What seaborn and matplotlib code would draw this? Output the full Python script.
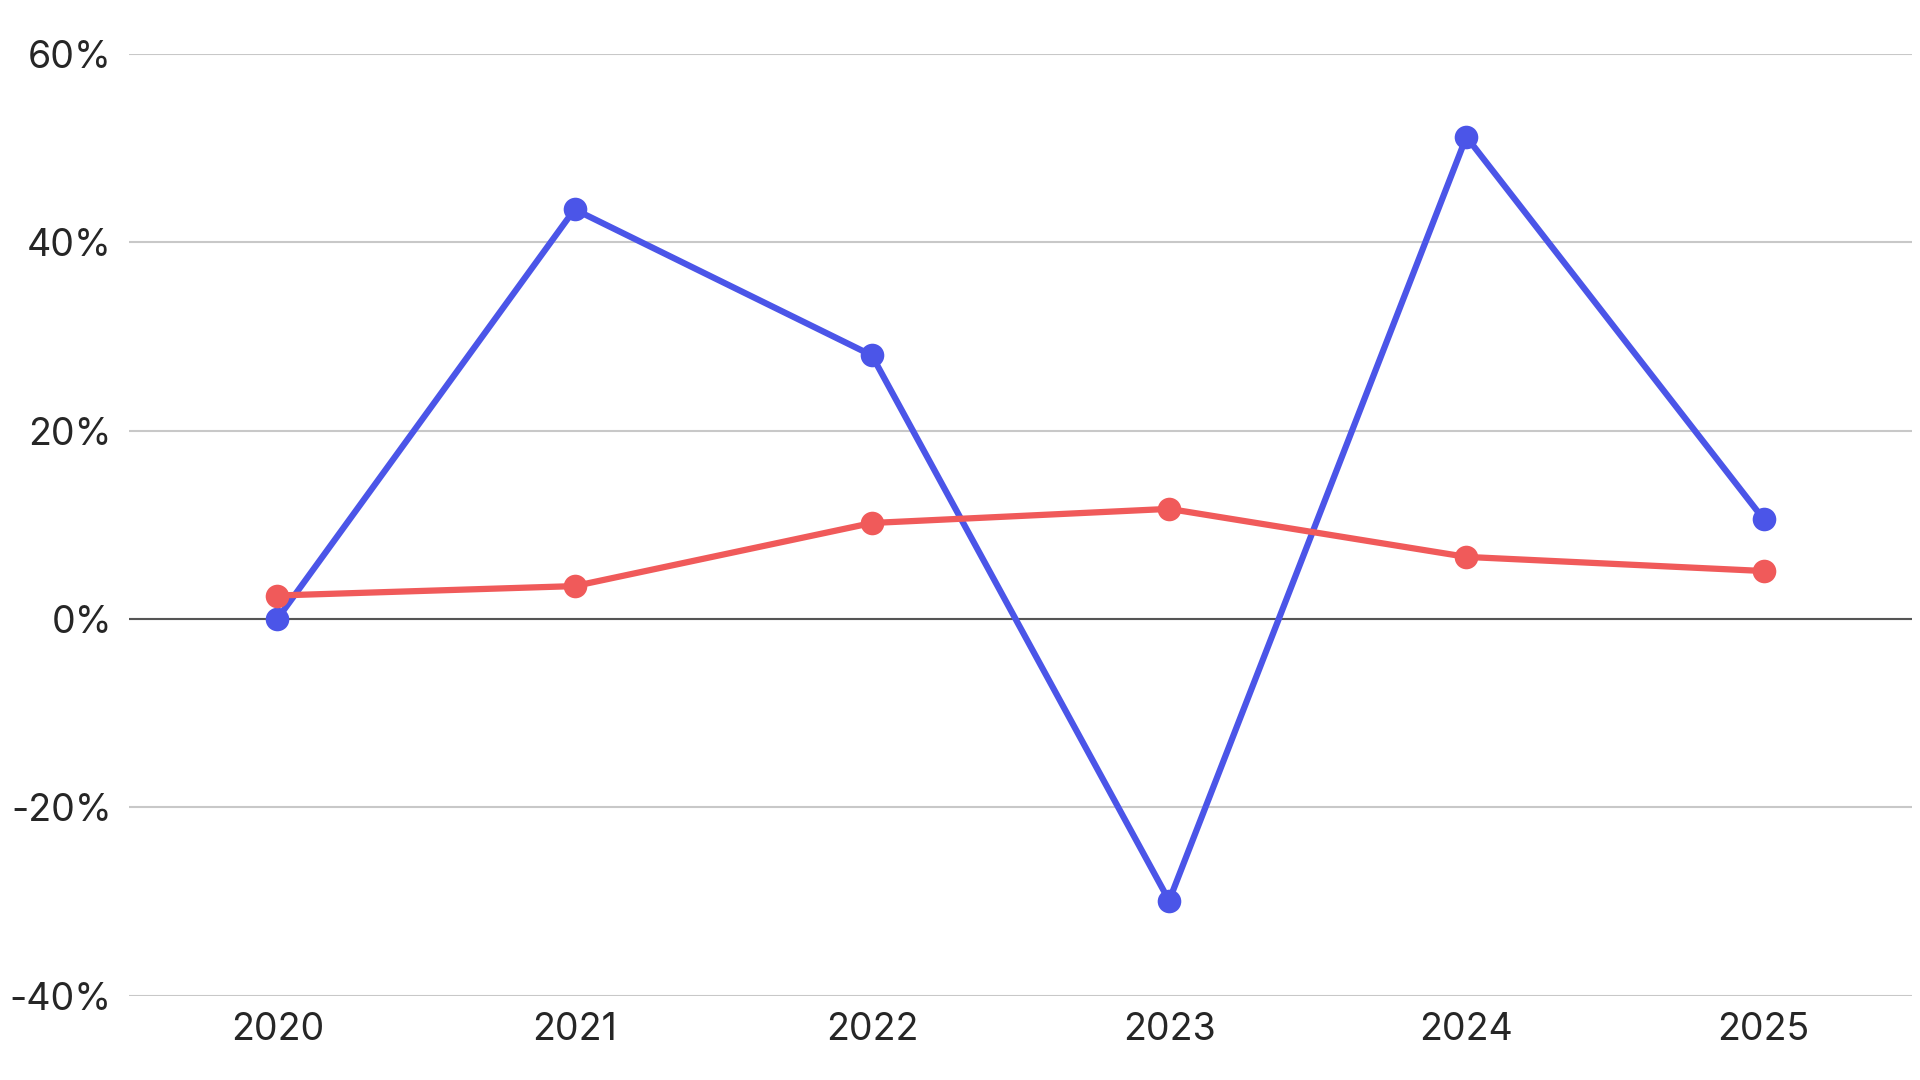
import matplotlib
matplotlib.use('Agg')
import matplotlib.pyplot as plt
import seaborn as sns
import pandas as pd
from matplotlib.ticker import FuncFormatter

years = ['2020', '2021', '2022', '2023', '2024', '2025']
blue_vals = [0.0, 43.5, 28.0, -29.9, 51.2, 10.6]
red_vals = [2.5, 3.5, 10.2, 11.7, 6.6, 5.1]

sns.set_style('white')
plt.rcParams['font.family'] = ['Inter', 'DejaVu Sans']

df = pd.DataFrame({'year': list(range(len(years))) * 2,
                   'value': blue_vals + red_vals,
                   'series': ['blue'] * 6 + ['red'] * 6})

fig = plt.figure(figsize=(19.2, 10.8), dpi=100)
ax = fig.add_axes([0.067, 0.078, 0.929, 0.872])

sns.lineplot(data=df, x='year', y='value', hue='series',
             palette={'blue': '#4B55E8', 'red': '#F05A5A'},
             marker='o', markersize=17, markeredgewidth=0, linewidth=4.5,
             legend=False, ax=ax)

ax.set_xlim(-0.5, 5.5)
ax.set_ylim(-40, 60)
ax.set_yticks([-40, -20, 0, 20, 40, 60])
ax.yaxis.set_major_formatter(FuncFormatter(lambda v, p: f'{v:.0f}%'))
ax.set_xticks(range(len(years)))
ax.set_xticklabels(years)
ax.grid(axis='y', color='#C8C8C8', linewidth=1.5)
ax.axhline(0, color='#555555', linewidth=1.5, zorder=1)
ax.tick_params(axis='both', labelsize=27, length=0, pad=12)
ax.set_xlabel('')
ax.set_ylabel('')
for s in ax.spines.values():
    s.set_visible(False)

fig.savefig('out.png', dpi=100)
